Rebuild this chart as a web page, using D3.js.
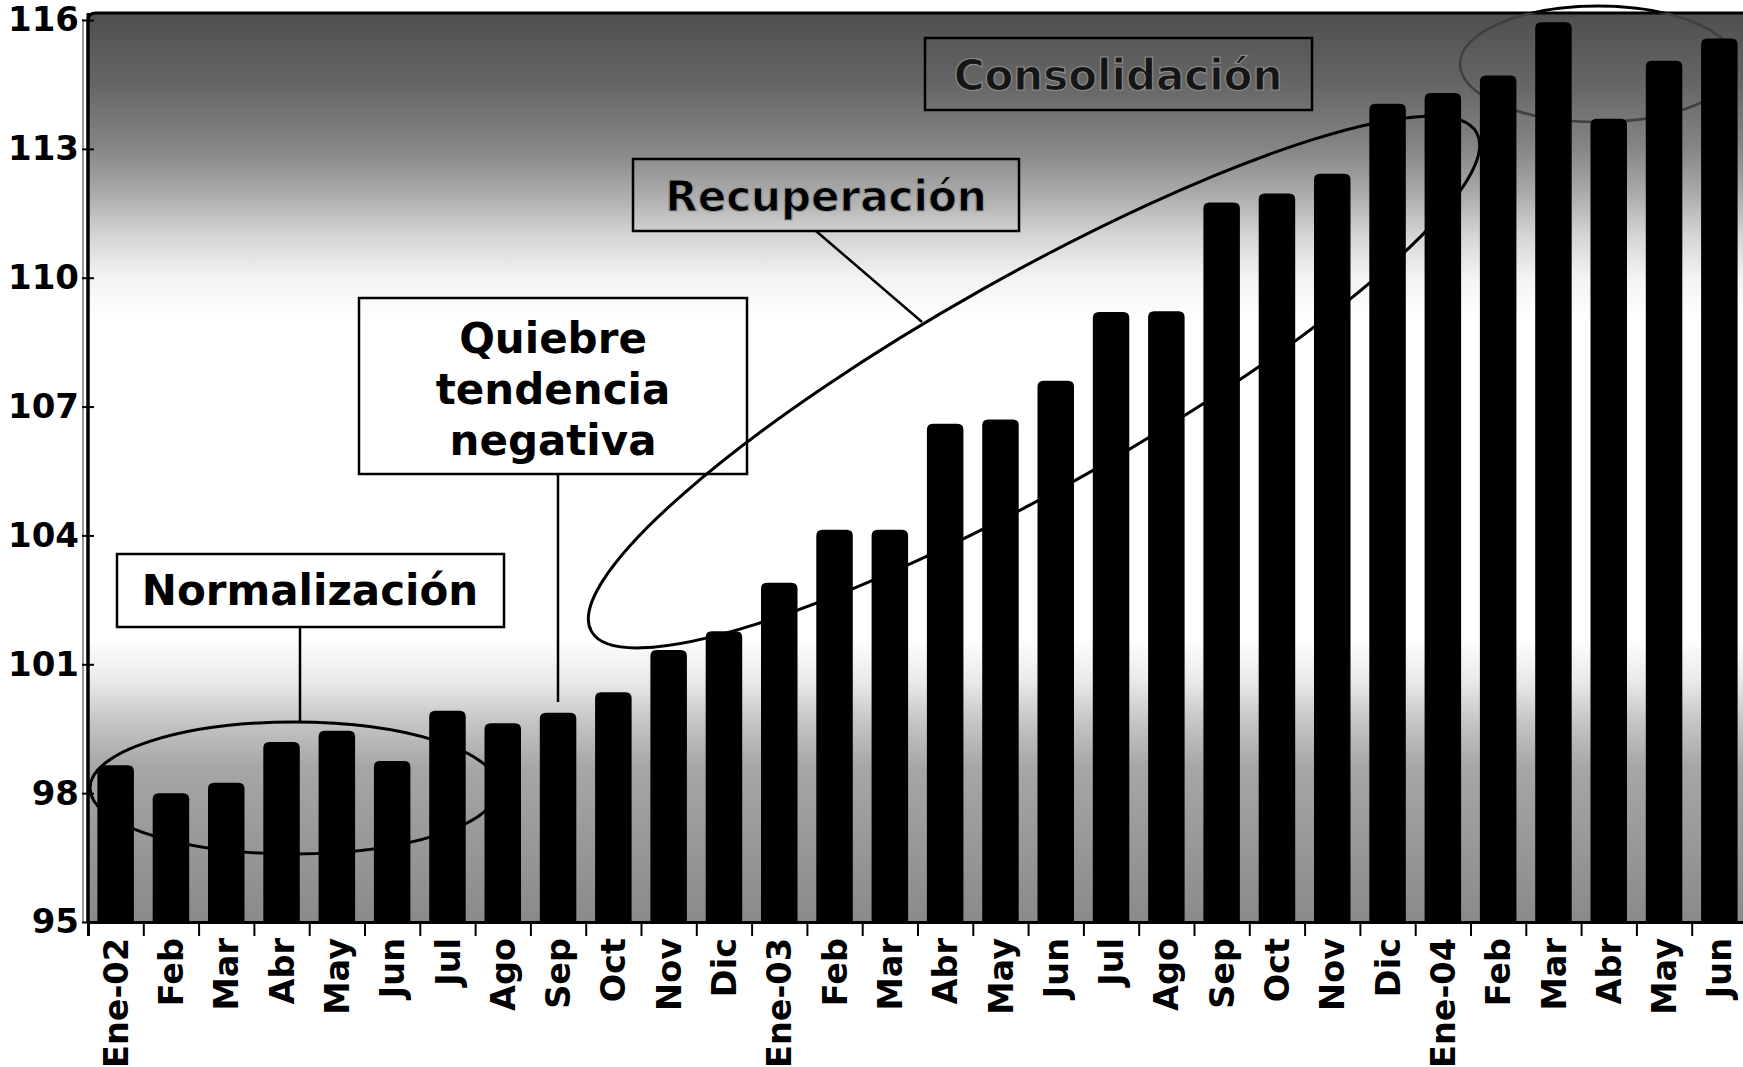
<!DOCTYPE html>
<html><head><meta charset="utf-8">
<script src="https://cdn.jsdelivr.net/npm/d3@7"></script>
<style>
body{margin:0;background:#fff;overflow:hidden}
svg{display:block}
text{font-family:"DejaVu Sans",Verdana,sans-serif;font-weight:bold}
</style>
</head><body>
<svg id="c" width="1743" height="1067"></svg>
<script>
// ---- data ----
const categories = ["Ene-02","Feb","Mar","Abr","May","Jun","Jul","Ago","Sep","Oct","Nov","Dic",
  "Ene-03","Feb","Mar","Abr","May","Jun","Jul","Ago","Sep","Oct","Nov","Dic",
  "Ene-04","Feb","Mar","Abr","May","Jun"];
const values = [98.65,98.0,98.24,99.19,99.45,98.75,99.92,99.63,99.87,100.35,101.33,101.77,
  102.9,104.13,104.13,106.6,106.7,107.6,109.2,109.22,111.75,111.96,112.42,114.05,
  114.3,114.71,115.95,113.7,115.05,115.57];
const yTicks = [95,98,101,104,107,110,113,116];
const noteNormal = ["Normalización"];
const noteQuiebre = ["Quiebre","tendencia","negativa"];
const noteRecup = ["Recuperación"];
const noteConsol = ["Consolidación"];

// ---- layout ----
const svg = d3.select("#c");
const pL = 88, step = 55.3, pR = pL + step*categories.length;
const pT = 13, pB = 922;
const x = d3.scaleBand().domain(d3.range(categories.length)).range([pL,pR])
  .paddingInner(0.34).paddingOuter(0.17);
const xb = d3.scaleLinear().domain([0,categories.length]).range([pL,pR]);
const y = d3.scaleLinear().domain([95,116]).range([pB,20]);

// background gradient
const defs = svg.append("defs");
const grad = defs.append("linearGradient").attr("id","bg")
  .attr("gradientUnits","userSpaceOnUse").attr("x1",0).attr("x2",0).attr("y1",pT).attr("y2",pB);
const shade = [[116.2,"#4f4f4f"],[114.5,"#666666"],[113,"#868686"],[112,"#a9a9a9"],[111,"#d4d4d4"],
  [110,"#f3f3f3"],[109,"#ffffff"],[101.6,"#ffffff"],[100.6,"#e9e9e9"],[99.6,"#c3c3c3"],
  [98.6,"#a6a6a6"],[95,"#8a8a8a"]];
shade.forEach(([v,c])=>grad.append("stop").attr("offset",Math.max(0,(y(v)-pT)/(pB-pT))).attr("stop-color",c));
defs.append("clipPath").attr("id","above").append("rect").attr("x",0).attr("y",0).attr("width",1743).attr("height",pT);
defs.append("clipPath").attr("id","inside").append("rect").attr("x",0).attr("y",pT).attr("width",1743).attr("height",1067);

svg.append("rect").attr("x",pL).attr("y",pT).attr("width",pR-pL).attr("height",pB-pT)
  .attr("fill","url(#bg)");
// plot border (top + left)
svg.append("path").attr("d",`M${pL},${pB} L${pL},${pT+8} Q${pL},${pT} ${pL+8},${pT} L${pR},${pT}`)
  .attr("fill","none").attr("stroke","#000").attr("stroke-width",3);
svg.append("line").attr("x1",pL-5).attr("x2",pL-5).attr("y1",pT+6).attr("y2",pB)
  .attr("stroke","#777").attr("stroke-width",1.5);

// ellipses (behind bars)
const ell = svg.append("g").attr("fill","none").attr("stroke","#000").attr("stroke-width",3);
ell.append("ellipse").attr("cx",294).attr("cy",788).attr("rx",204).attr("ry",66);
ell.append("ellipse").attr("transform","translate(1034,382) rotate(-29.4)").attr("rx",508).attr("ry",106);
ell.append("ellipse").attr("cx",1598).attr("cy",64).attr("rx",138).attr("ry",58)
  .attr("clip-path","url(#above)");
ell.append("ellipse").attr("cx",1598).attr("cy",64).attr("rx",138).attr("ry",58)
  .attr("clip-path","url(#inside)").attr("stroke","#404040").attr("stroke-width",2.5);

// bars with rounded tops
const r = 6;
svg.append("g").selectAll("path").data(values).join("path")
  .attr("fill","#000")
  .attr("d",(v,i)=>{
    const x0 = x(i), w = x.bandwidth(), y0 = y(v), y1 = pB;
    return `M${x0},${y1} L${x0},${y0+r} Q${x0},${y0} ${x0+r},${y0} L${x0+w-r},${y0} Q${x0+w},${y0} ${x0+w},${y0+r} L${x0+w},${y1} Z`;
  });

// y axis
const ya = svg.append("g").attr("transform",`translate(${pL},0)`)
  .call(d3.axisLeft(y).tickValues(yTicks).tickSize(6).tickPadding(3));
ya.select(".domain").remove();
ya.append("line").attr("x1",0).attr("x2",0).attr("y1",pT).attr("y2",pB).attr("stroke","#000").attr("stroke-width",3);
ya.selectAll(".tick line").attr("x1",-6).attr("x2",6).attr("stroke","#000").attr("stroke-width",2);
ya.selectAll(".tick text").attr("font-size",34).attr("fill","#000")
  .attr("font-family","'DejaVu Sans',Verdana,sans-serif").attr("font-weight","bold");

// x axis: boundary ticks
const xt = svg.append("g").attr("transform",`translate(0,${pB})`)
  .call(d3.axisBottom(xb).tickValues(d3.range(categories.length+1)).tickFormat("").tickSize(14));
xt.select(".domain").attr("stroke","#000").attr("stroke-width",3);
xt.selectAll(".tick line").attr("stroke","#000").attr("stroke-width",2);
// x labels
const xl = svg.append("g").attr("transform",`translate(0,${pB})`)
  .call(d3.axisBottom(x).tickFormat(i=>categories[i]).tickSize(0));
xl.select(".domain").remove();
xl.selectAll(".tick text").attr("font-size",33.5).attr("fill","#000")
  .attr("font-family","'DejaVu Sans',Verdana,sans-serif").attr("font-weight","bold")
  .attr("transform","rotate(-90)").attr("text-anchor","end")
  .attr("x",-16).attr("y",0).attr("dy","0.36em");

// annotations
const ann = svg.append("g");
function box(x0,y0,x1,y1){
  ann.append("rect").attr("x",x0).attr("y",y0).attr("width",x1-x0).attr("height",y1-y0)
    .attr("fill","none").attr("stroke","#000").attr("stroke-width",2.5);
}
function lines(arr,cx,cy0,lh,fill,stroke){
  arr.forEach((t,k)=>ann.append("text").attr("x",cx).attr("y",cy0+k*lh).attr("dy","0.36em")
    .attr("text-anchor","middle").attr("font-size",42).attr("fill",fill)
    .attr("stroke",stroke||"none").attr("stroke-width",stroke?1.2:0).text(t));
}
function seg(x1,y1,x2,y2){
  ann.append("line").attr("x1",x1).attr("y1",y1).attr("x2",x2).attr("y2",y2)
    .attr("stroke","#000").attr("stroke-width",2.5);
}
box(117,554,504,627); lines(noteNormal,310,590,0,"#000"); seg(300,627,300,722);
box(359,298,747,474); lines(noteQuiebre,553,338,51,"#000"); seg(558,474,558,702);
box(633,159,1019,231); lines(noteRecup,826,196,0,"#000","#9a9a9a"); seg(816,231,922,322);
box(925,38,1312,110); lines(noteConsol,1118,75,0,"#151515","#8c8c8c");
</script>
</body></html>
